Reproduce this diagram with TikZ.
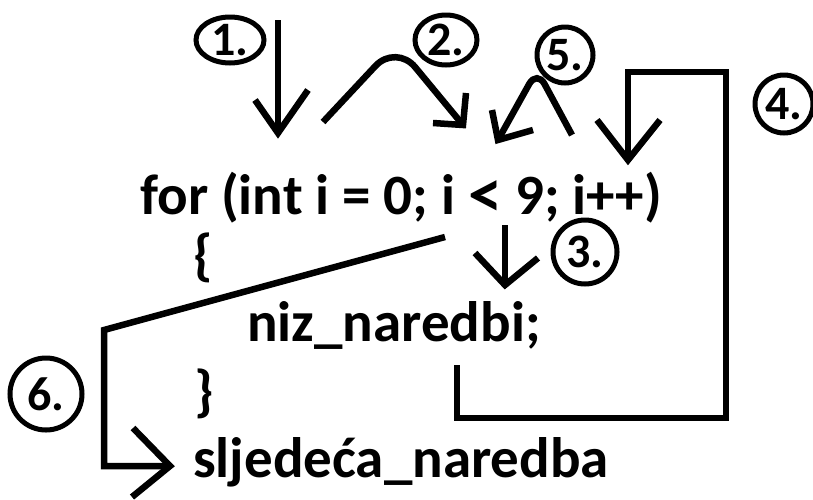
\documentclass[tikz,border=0pt]{standalone}
\usepackage{fontspec}
\setmainfont{Carlito}
\usetikzlibrary{shapes.geometric}
\begin{document}
\begin{tikzpicture}[x=1pt,y=-1pt,
  code/.style={anchor=base west, inner sep=0pt, font=\fontsize{57}{60}\selectfont\bfseries},
  num/.style={draw, ellipse, line width=5pt, inner sep=0pt, font=\fontsize{48}{50}\selectfont\bfseries},
  stroke/.style={line width=6.5pt, line cap=butt, line join=miter}]
\useasboundingbox (0,0) rectangle (813,499);
% code lines
\node[code] (l1) at (140,214) {for (int i = 0; i \raisebox{-0.07em}{\scalebox{1.2}{<}} 9; i++)};
\node[code] (l2) at (193,274) {\{};
\node[code] (l3) at (247,341) {niz\_naredbi;};
\node[code] (l4) at (194,410) {\}};
\node[code] (l5) at (193,477) {sljedeća\_naredba};
% circled numbers
\node[num, minimum width=68pt, minimum height=46pt] (c1) at (230,40) {1.};
\node[num, minimum width=62pt, minimum height=50pt] (c2) at (446,40) {2.};
\node[num, minimum width=64pt, minimum height=64pt] (c3) at (585,252) {3.};
\node[num, minimum width=58pt, minimum height=58pt] (c4) at (784,104) {4.};
\node[num, minimum width=56pt, minimum height=56pt] (c5) at (565,55) {5.};
\node[num, minimum width=72pt, minimum height=72pt] (c6) at (46,394) {6.};
% coordinates
\coordinate (a1s) at (278,20);
\coordinate (a1t) at (278,133);
\coordinate (a1l) at (255,100);
\coordinate (a1r) at (308,90);
\coordinate (a2s) at (323,122);
\coordinate (a2p) at (396,44);
\coordinate (a2t) at (463,125);
\coordinate (a2u) at (466,93);
\coordinate (a2l) at (433,123);
\coordinate (a3s) at (505,225);
\coordinate (a3t) at (505,285);
\coordinate (a3l) at (475,253);
\coordinate (a3r) at (538,258);
\coordinate (a4s) at (457,365);
\coordinate (a4a) at (457,418);
\coordinate (a4b) at (726,418);
\coordinate (a4c) at (726,72);
\coordinate (a4d) at (628,72);
\coordinate (a4t) at (628,160);
\coordinate (a4l) at (597,120);
\coordinate (a4r) at (660,120);
\coordinate (a5s) at (572,135);
\coordinate (a5p) at (537,70);
\coordinate (a5t) at (498,140);
\coordinate (a5u) at (492,110);
\coordinate (a5r) at (533,130);
\coordinate (a6s) at (445,237);
\coordinate (a6a) at (104,330);
\coordinate (a6b) at (104,466);
\coordinate (a6t) at (170,466);
\coordinate (a6u) at (133,428);
\coordinate (a6d) at (132,497);
% arrows
\draw[stroke] (a1s) -- (a1t);
\draw[stroke] (a1l) -- (a1t) -- (a1r);
\draw[stroke, rounded corners=30pt] (a2s) -- (a2p) -- (a2t);
\draw[stroke] (a2u) -- (a2t) -- (a2l);
\draw[stroke] (a3s) -- (a3t);
\draw[stroke] (a3l) -- (a3t) -- (a3r);
\draw[stroke] (a4s) -- (a4a) -- (a4b) -- (a4c) -- (a4d) -- (a4t);
\draw[stroke] (a4l) -- (a4t) -- (a4r);
\draw[stroke, rounded corners=16pt] (a5s) -- (a5p) -- (a5t);
\draw[stroke] (a5u) -- (a5t) -- (a5r);
\draw[stroke] (a6s) -- (a6a) -- (a6b) -- (a6t);
\draw[stroke] (a6u) -- (a6t) -- (a6d);
\end{tikzpicture}
\end{document}
